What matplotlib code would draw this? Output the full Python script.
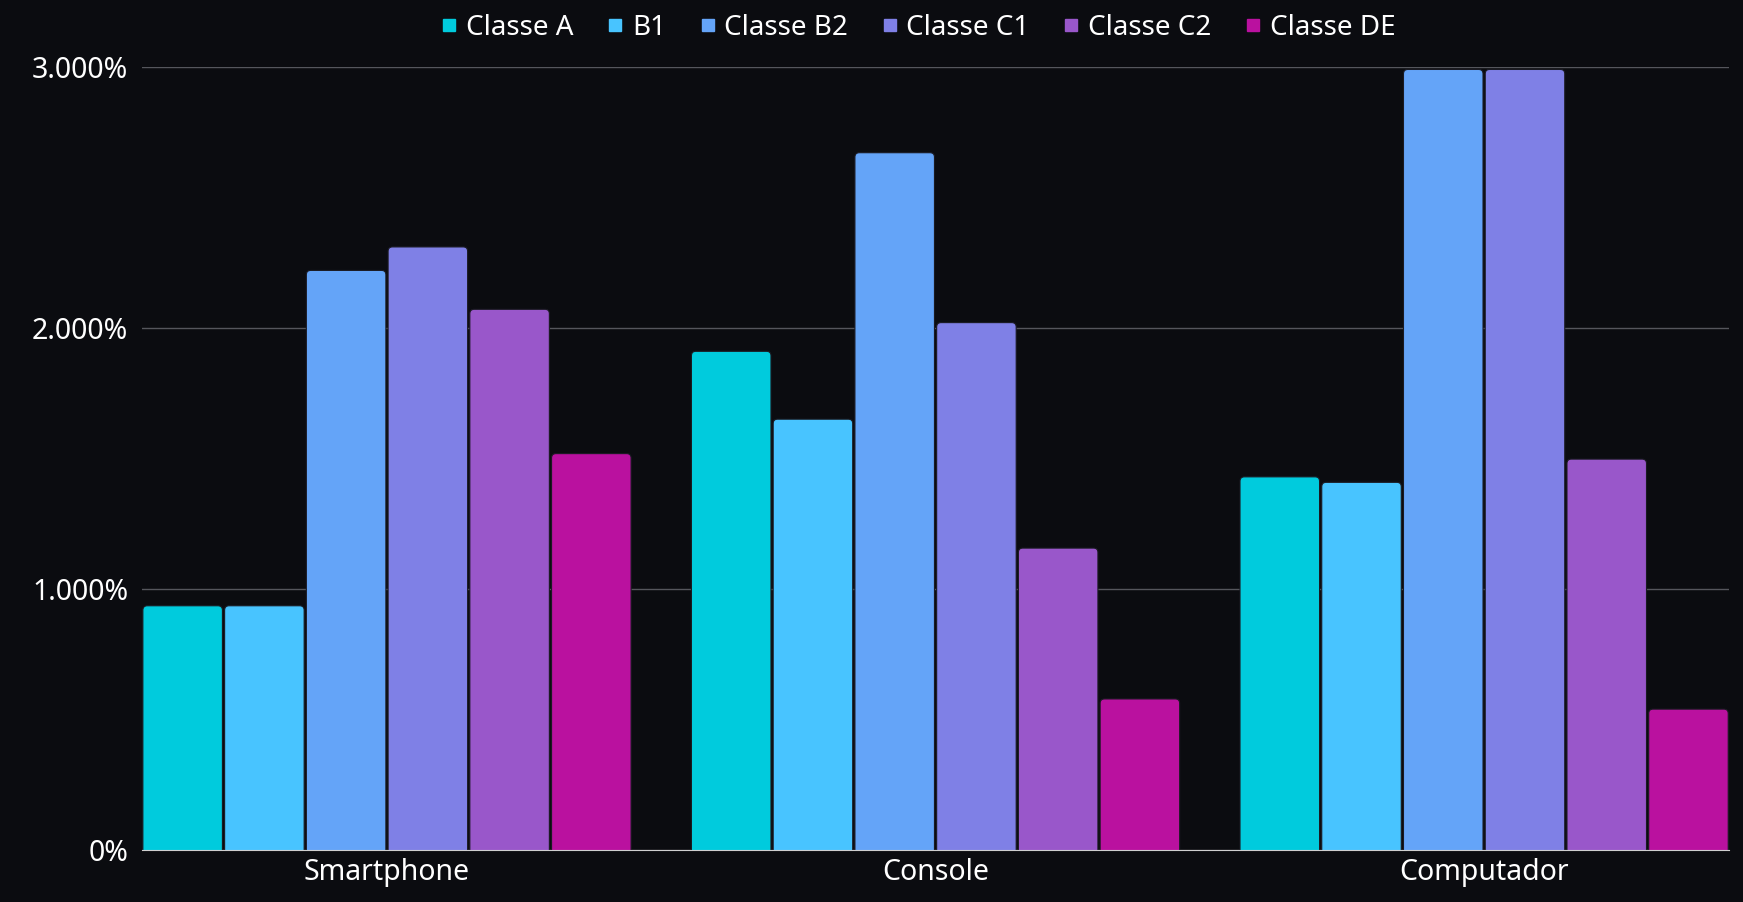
import matplotlib
matplotlib.use('Agg')
import matplotlib.pyplot as plt
from matplotlib.lines import Line2D
from matplotlib.patches import FancyBboxPatch
from matplotlib.ticker import FuncFormatter
import numpy as np

plt.rcParams['font.family'] = ['Noto Sans', 'DejaVu Sans']

categories = ['Smartphone', 'Console', 'Computador']
series_names = ['Classe A', 'B1', 'Classe B2', 'Classe C1', 'Classe C2', 'Classe DE']
series_colors = ['#00CBDD', '#48C4FF', '#64A4F8', '#7F80E6', '#9957CA', '#BA119F']

# values in percent
classe_a = [0.936, 1.911, 1.430]
b1 = [0.936, 1.651, 1.409]
classe_b2 = [2.221, 2.672, 2.991]
classe_c1 = [2.311, 2.021, 2.991]
classe_c2 = [2.072, 1.157, 1.498]
classe_de = [1.519, 0.579, 0.540]
series_values = [classe_a, b1, classe_b2, classe_c1, classe_c2, classe_de]

bg = '#0B0C10'

fig = plt.figure(figsize=(17.43, 9.02), dpi=100, facecolor=bg)
ax = fig.add_axes([0.0815, 0.0576, 0.9105, 0.868], facecolor=bg)

x = np.arange(len(categories))
slot = 0.149
width = 0.145
for i, (vals, col) in enumerate(zip(series_values, series_colors)):
    offs = (i - 2.5) * slot
    bars = ax.bar(x + offs, vals, width=width, color=col, zorder=3)
    # swap plain rects for ones with rounded top corners
    for b in bars:
        b.set_visible(False)
        fb = FancyBboxPatch((b.get_x(), -0.05), b.get_width(), b.get_height() + 0.05,
                            boxstyle='round,pad=0,rounding_size=0.008',
                            mutation_aspect=2.1, facecolor=col,
                            edgecolor='#1a1a22', linewidth=0.8, zorder=3)
        ax.add_patch(fb)

ax.set_xlim(-0.4465, 2.4465)
ax.set_ylim(0, 3.0)
ax.set_yticks([0, 1, 2, 3])
ax.yaxis.set_major_formatter(FuncFormatter(lambda v, p: '0%' if v == 0 else '{:.3f}%'.format(v)))
ax.set_xticks(x)
ax.set_xticklabels(categories)
ax.grid(axis='y', color='#55565c', linewidth=1, zorder=0)
for s in ['top', 'right', 'left']:
    ax.spines[s].set_visible(False)
ax.spines['bottom'].set_color('#d0d0d0')
ax.spines['bottom'].set_zorder(4)
ax.tick_params(axis='both', length=0, colors='white', labelsize=20.5)
ax.tick_params(axis='y', pad=10)
ax.tick_params(axis='x', pad=6)

handles = [Line2D([], [], marker='s', linestyle='none', markersize=8,
                  markerfacecolor=c, markeredgecolor=c) for c in series_colors]
fig.legend(handles, series_names, loc='upper center', bbox_to_anchor=(0.526, 1.012),
           ncol=6, frameon=False, fontsize=20, labelcolor='white',
           handletextpad=0.2, columnspacing=1.1, handlelength=0.8)

fig.savefig('out.png', dpi=100, facecolor=bg)
